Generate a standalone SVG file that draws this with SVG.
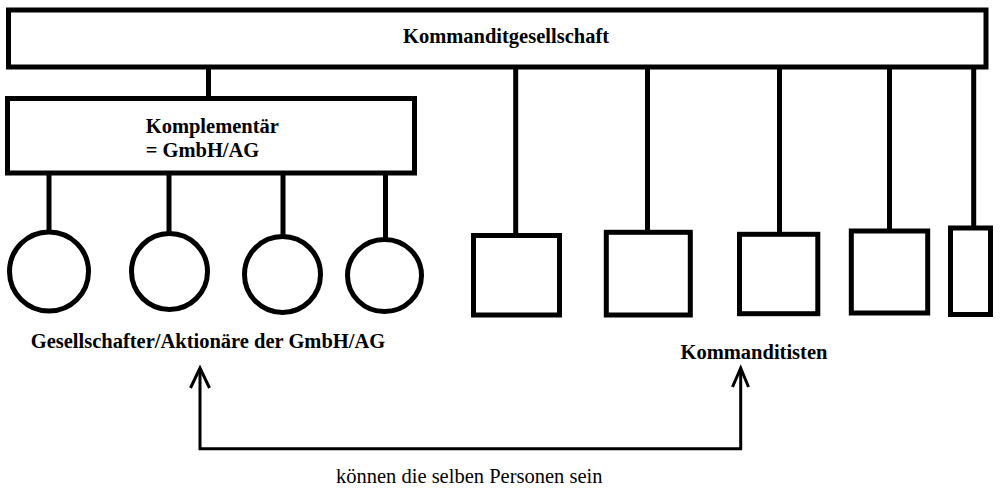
<svg xmlns="http://www.w3.org/2000/svg" width="1001" height="498" viewBox="0 0 1001 498">
<style>
.box{fill:#fff;stroke:#000;stroke-width:5}
.ln{stroke:#000;stroke-width:5;fill:none}
.ar{stroke:#000;stroke-width:3;fill:none}
.b{font-family:"Liberation Serif","Times New Roman",serif;font-weight:bold;font-size:20.5px;fill:#000}
.r{font-family:"Liberation Serif","Times New Roman",serif;font-size:20.5px;fill:#000}
</style>
<rect width="1001" height="498" fill="#fff"/>
<g id="connectors">
<line class="ln" x1="208.5" y1="67" x2="208.5" y2="98"/>
<line class="ln" x1="515.7" y1="67" x2="515.7" y2="235"/>
<line class="ln" x1="647.5" y1="67" x2="647.5" y2="232"/>
<line class="ln" x1="779.5" y1="67" x2="779.5" y2="234"/>
<line class="ln" x1="889.5" y1="67" x2="889.5" y2="231"/>
<line class="ln" x1="973.7" y1="67" x2="973.7" y2="228"/>
<line class="ln" x1="49" y1="173" x2="49" y2="232"/>
<line class="ln" x1="169" y1="173" x2="169" y2="233"/>
<line class="ln" x1="283" y1="173" x2="283" y2="236"/>
<line class="ln" x1="385.5" y1="173" x2="385.5" y2="239"/>
<polyline class="ar" points="200,369 200,448.7 740.7,448.7 740.7,369"/>
<polyline class="ar" points="190.5,388 200,368 209.5,388"/>
<polyline class="ar" points="732.5,387 740.7,368 748.5,387"/>
</g>
<g id="kg">
<rect class="box" x="8.5" y="10" width="977.5" height="57"/>
<text class="b" x="506" y="43" text-anchor="middle">Kommanditgesellschaft</text>
</g>
<g id="komplementaer">
<rect class="box" x="7.5" y="98.5" width="407" height="74.5"/>
<text class="b" x="145.7" y="133.3">Komplementär</text>
<text class="b" x="145.7" y="157.3">= GmbH/AG</text>
</g>
<g id="g1"><circle class="box" cx="49" cy="271.5" r="39.5"/></g>
<g id="g2"><circle class="box" cx="169.5" cy="271.5" r="38"/></g>
<g id="g3"><circle class="box" cx="282.5" cy="274.5" r="38"/></g>
<g id="g4"><ellipse class="box" cx="384.5" cy="275.5" rx="37" ry="36"/></g>
<g id="k1"><rect class="box" x="473.5" y="235.5" width="86" height="79.5"/></g>
<g id="k2"><rect class="box" x="606.3" y="232.3" width="84" height="82.7"/></g>
<g id="k3"><rect class="box" x="739.5" y="234.3" width="78.3" height="79.4"/></g>
<g id="k4"><rect class="box" x="851.3" y="231" width="76.4" height="82"/></g>
<g id="k5"><rect class="box" x="950.5" y="228" width="40" height="86.5"/></g>
<g id="labels">
<text class="b" x="30.7" y="348.3">Gesellschafter/Aktionäre der GmbH/AG</text>
<text class="b" x="680.5" y="359">Kommanditisten</text>
<text class="r" x="336" y="483.3">können die selben Personen sein</text>
</g>
</svg>
